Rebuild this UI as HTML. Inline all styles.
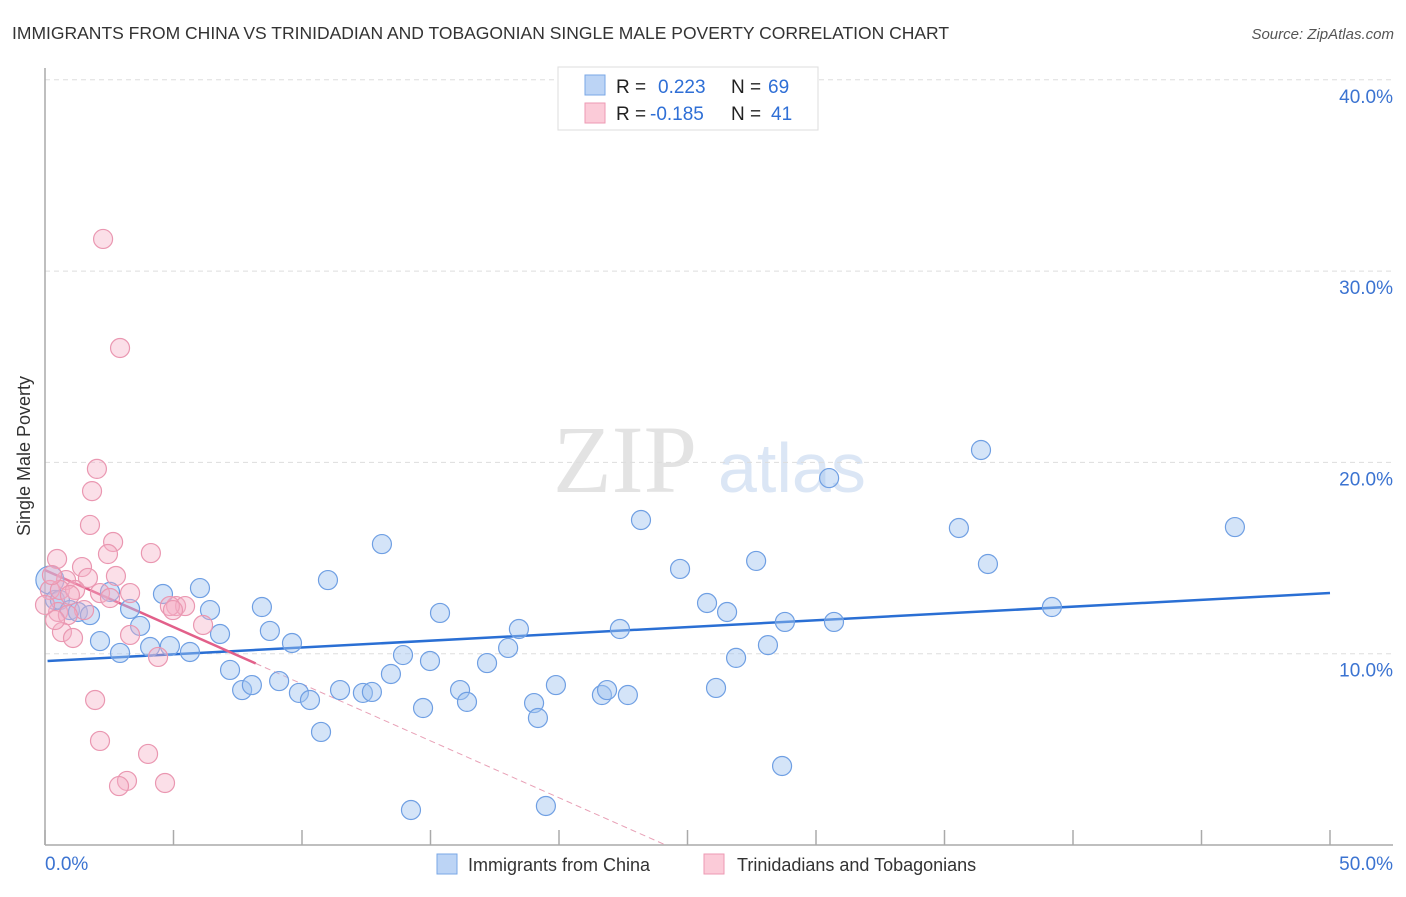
<!DOCTYPE html>
<html><head><meta charset="utf-8"><style>
body{margin:0;background:#fff;font-family:"Liberation Sans",sans-serif;}
svg text{font-family:"Liberation Sans",sans-serif;}
</style></head><body>
<svg width="1406" height="892" id="chart">
<text x="12" y="39" font-size="17.5" fill="#333">IMMIGRANTS FROM CHINA VS TRINIDADIAN AND TOBAGONIAN SINGLE MALE POVERTY CORRELATION CHART</text>
<text x="1394" y="39" font-size="15" fill="#555" font-style="italic" text-anchor="end">Source: ZipAtlas.com</text>
<text x="30" y="456" font-size="18" fill="#333" text-anchor="middle" transform="rotate(-90 30 456)">Single Male Poverty</text>
<g>
<text x="553" y="492" font-size="96" fill="#e3e3e3" font-family="Liberation Serif" style="font-family:'Liberation Serif',serif">ZIP</text>
<text x="718" y="492" font-size="70" fill="#dbe6f5">atlas</text>
</g>
<g id="grid"></g>
<g id="axes"></g>
<g id="lines"></g>
<g id="pts"></g>
<g>
<rect x="558" y="67" width="260" height="63" fill="#fff" stroke="#ddd"/>
<rect x="585" y="75" width="20" height="20" fill="#bcd4f5" stroke="#7aa7e6"/>
<rect x="585" y="103" width="20" height="20" fill="#fbcbd8" stroke="#ee9ab3"/>
<text x="616" y="93" font-size="19" fill="#222">R = </text><text x="658" y="93" font-size="19" fill="#2f6fd6">0.223</text>
<text x="731" y="93" font-size="19" fill="#222">N = </text><text x="768" y="93" font-size="19" fill="#2f6fd6">69</text>
<text x="616" y="120" font-size="19" fill="#222">R = </text><text x="650" y="120" font-size="19" fill="#2f6fd6">-0.185</text>
<text x="731" y="120" font-size="19" fill="#222">N = </text><text x="771" y="120" font-size="19" fill="#2f6fd6">41</text>
</g>
<g>
<rect x="437" y="854" width="20" height="20" fill="#bcd4f5" stroke="#7aa7e6"/>
<text x="468" y="871" font-size="18" fill="#333">Immigrants from China</text>
<rect x="704" y="854" width="20" height="20" fill="#fbcbd8" stroke="#ee9ab3"/>
<text x="737" y="871" font-size="18" fill="#333">Trinidadians and Tobagonians</text>
</g>
</svg>
<script>
const chinaX=[0.19,0.39,0.58,0.97,1.28,1.75,2.14,2.53,2.92,3.31,3.70,4.09,4.59,4.86,5.64,6.03,6.42,6.81,7.20,7.67,8.05,8.44,8.75,9.11,9.61,9.88,10.31,10.74,11.01,11.48,12.37,12.72,13.11,13.46,13.93,14.24,14.71,14.98,15.37,16.15,16.42,17.20,18.02,18.44,19.03,19.18,19.49,19.88,21.67,21.87,22.37,22.68,23.19,24.71,25.76,26.11,26.54,26.89,27.67,28.13,28.68,28.79,30.51,30.70,35.56,36.42,36.69,39.18,46.30];
const chinaY=[13.85,12.81,12.81,12.28,12.18,12.02,10.66,13.23,10.04,12.34,11.45,10.35,13.12,10.40,10.09,13.43,12.28,11.03,9.15,8.10,8.36,12.44,11.19,8.57,10.56,7.95,7.58,5.91,13.85,8.10,7.95,8.00,15.73,8.94,9.93,1.83,7.16,9.62,12.13,8.10,7.48,9.51,10.30,11.29,7.42,6.64,2.04,8.36,7.84,8.10,11.29,7.84,16.99,14.43,12.65,8.21,12.18,9.78,14.85,10.45,4.13,11.66,19.18,11.66,16.57,20.65,14.69,12.44,16.62];
const trinX=[2.26,2.92,2.02,1.83,1.75,0.47,2.65,4.12,2.45,1.44,2.76,0.82,1.67,0.19,0.58,1.17,2.14,3.31,5.10,5.45,4.86,4.98,0.51,1.52,0.89,6.15,3.31,0.66,1.09,4.40,1.95,2.14,4.01,3.19,2.88,4.67,0.39,0.0,0.97,2.53,0.27];
const trinY=[31.68,25.98,19.66,18.50,16.73,14.95,15.84,15.26,15.21,14.53,14.06,13.85,13.96,13.33,13.33,13.33,13.17,13.17,12.49,12.49,12.49,12.28,12.18,12.28,12.02,11.50,10.98,11.13,10.82,9.83,7.58,5.44,4.76,3.35,3.08,3.24,11.76,12.55,13.07,12.91,14.11];
const yTicks=[10,20,30,40];
const yTickLabels=["10.0%","20.0%","30.0%","40.0%"];
const xTicks=[0,5,10,15,20,25,30,35,40,45,50];
const chinaTrend=[0.1,9.62,50,13.17];
const trinTrend=[0,14.37,8.2,9.49,24.15,0];
const sx=v=>45+v*25.7, sy=v=>845-v*19.13;
const NS="http://www.w3.org/2000/svg";
function mk(tag,attrs,parent){const e=document.createElementNS(NS,tag);for(const k in attrs)e.setAttribute(k,attrs[k]);document.getElementById(parent).appendChild(e);return e;}
yTicks.forEach((t,i)=>{
 const l=mk('line',{x1:45,x2:1393,y1:sy(t),y2:sy(t),stroke:'#ddd','stroke-dasharray':'5,4'},'grid');
 
 
 const tx=mk('text',{x:1393,y:sy(t)+23,'font-size':19,fill:'#3b73d1','text-anchor':'end'},'grid');
 tx.textContent=yTickLabels[i];
 
 
});
const ax=mk('line',{x1:45,x2:45,y1:68,y2:845,stroke:'#aaa','stroke-width':1.5},'axes');


const bx=mk('line',{x1:45,x2:1393,y1:845,y2:845,stroke:'#aaa','stroke-width':1.5},'axes');


xTicks.forEach(t=>{
 const l=mk('line',{x1:sx(t),x2:sx(t),y1:830,y2:845,stroke:'#aaa','stroke-width':1.5},'axes');
 
 
});
const x0=mk('text',{x:45,y:870,'font-size':19,fill:'#3b73d1'},'axes');x0.textContent='0.0%';


const x1=mk('text',{x:1393,y:870,'font-size':19,fill:'#3b73d1','text-anchor':'end'},'axes');x1.textContent='50.0%';


chinaX.forEach((x,i)=>{
 const c=mk('circle',{cx:sx(x),cy:sy(chinaY[i]),r:i==0?14:9.5,fill:'rgba(160,195,240,0.45)',stroke:'#6f9fe3','stroke-width':1.2},'pts');
 
 
});
trinX.forEach((x,i)=>{
 const c=mk('circle',{cx:sx(x),cy:sy(trinY[i]),r:9.5,fill:'rgba(245,175,198,0.4)',stroke:'#ea97b1','stroke-width':1.2},'pts');
 
 
});
const cl=mk('line',{x1:sx(chinaTrend[0]),y1:sy(chinaTrend[1]),x2:sx(chinaTrend[2]),y2:sy(chinaTrend[3]),stroke:'#2a6fd4','stroke-width':2.5},'lines');


const tl=mk('line',{x1:sx(trinTrend[0]),y1:sy(trinTrend[1]),x2:sx(trinTrend[2]),y2:sy(trinTrend[3]),stroke:'#e2608a','stroke-width':2.5},'lines');


const td=mk('line',{x1:sx(trinTrend[2]),y1:sy(trinTrend[3]),x2:sx(trinTrend[4]),y2:sy(trinTrend[5]),stroke:'#e8a0b6','stroke-width':1,'stroke-dasharray':'6,4'},'lines');


</script>
</body></html>
